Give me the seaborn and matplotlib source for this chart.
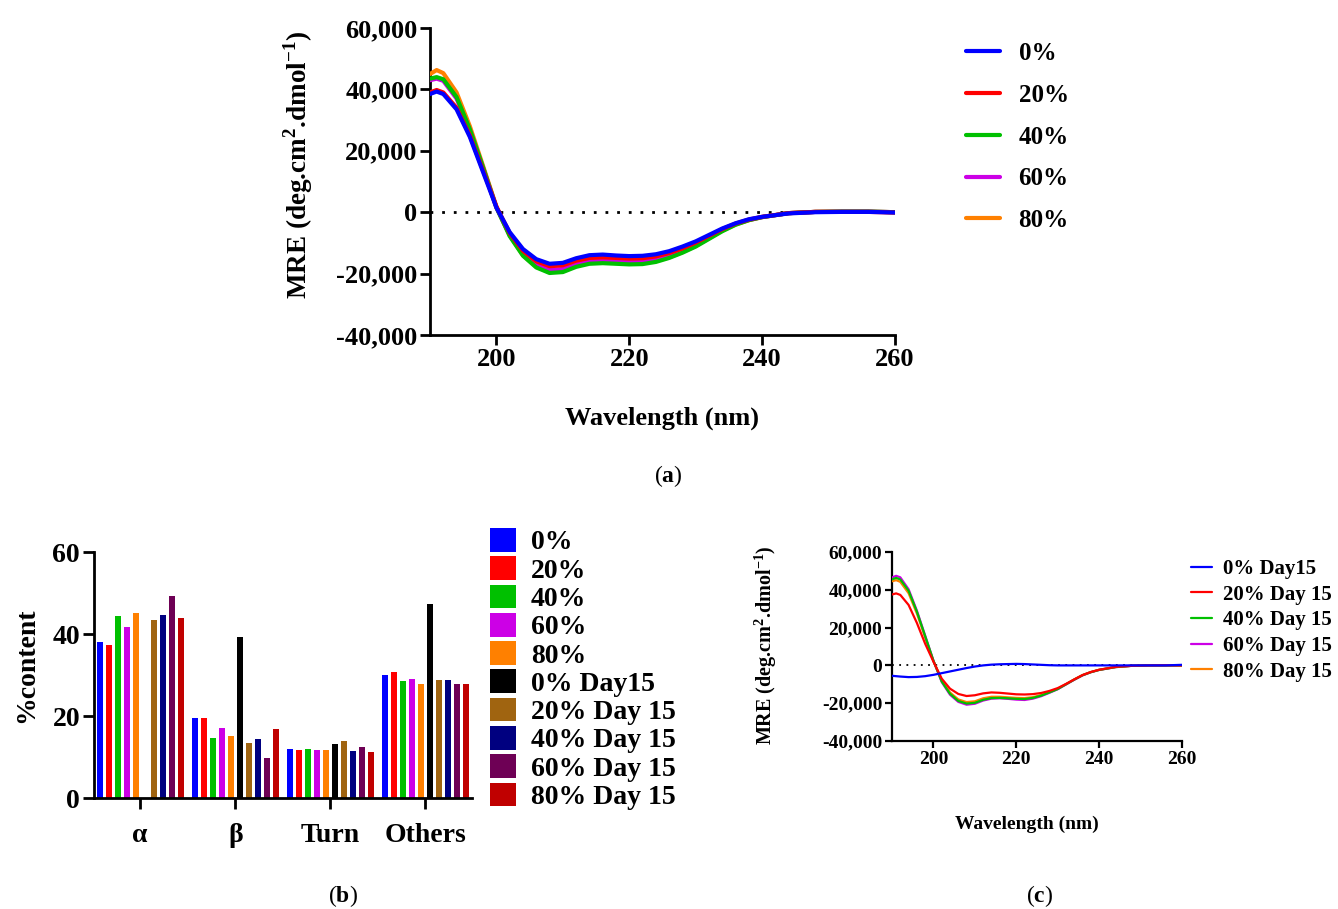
import matplotlib
matplotlib.use("Agg")
import matplotlib.pyplot as plt
from matplotlib.patches import Patch
from matplotlib.ticker import StrMethodFormatter
import numpy as np
import pandas as pd
import seaborn as sns

# ---------------- data ----------------
wavelength = [190, 191, 192, 194, 196, 198, 200, 202, 204, 206, 208, 210, 212, 214, 216,
              218, 220, 222, 224, 226, 228, 230, 232, 234, 236, 238, 240, 244, 248, 252,
              256, 260]

# (a) fresh samples, MRE in units of 1000 deg.cm2.dmol-1
mre_0 = [38.5, 39.3, 38.5, 33.5, 24.5, 13.0, 1.5, -6.5, -12.0, -15.3, -16.8, -16.5, -15.0,
         -14.0, -13.8, -14.1, -14.3, -14.2, -13.7, -12.7, -11.2, -9.5, -7.4, -5.3, -3.6,
         -2.3, -1.5, -0.4, 0.0, 0.1, 0.1, -0.1]
mre_20 = [39.0, 39.8, 39.0, 34.0, 25.0, 13.5, 1.8, -6.8, -12.6, -16.0, -17.6, -17.3, -15.8,
          -14.9, -14.7, -14.9, -15.1, -15.0, -14.4, -13.3, -11.8, -9.9, -7.7, -5.5, -3.7,
          -2.4, -1.5, -0.3, 0.1, 0.1, 0.1, -0.1]
mre_40 = [43.5, 44.0, 43.3, 37.5, 27.0, 14.5, 1.5, -7.8, -14.2, -18.0, -19.8, -19.5, -17.8,
          -16.8, -16.6, -16.8, -17.0, -16.9, -16.2, -14.9, -13.2, -11.2, -8.7, -6.2, -4.1,
          -2.6, -1.6, -0.3, 0.1, 0.2, 0.2, 0.0]
mre_60 = [43.0, 43.5, 42.8, 37.0, 26.8, 14.3, 1.5, -7.5, -13.7, -17.2, -18.8, -18.5, -16.9,
          -15.9, -15.8, -16.0, -16.2, -16.1, -15.5, -14.3, -12.7, -10.7, -8.3, -5.9, -3.9,
          -2.5, -1.6, -0.3, 0.1, 0.2, 0.2, 0.0]
mre_80 = [45.0, 46.3, 45.3, 39.0, 28.0, 15.0, 1.8, -7.6, -14.0, -17.8, -19.5, -19.2, -17.5,
          -16.5, -16.3, -16.5, -16.7, -16.6, -15.9, -14.7, -13.0, -11.0, -8.5, -6.0, -4.0,
          -2.6, -1.6, -0.3, 0.1, 0.2, 0.2, 0.0]

# (c) samples after 15 days
mre_0_d15 = [-5.5, -5.7, -5.9, -6.2, -6.1, -5.7, -5.0, -4.1, -3.2, -2.3, -1.4, -0.6, 0.0,
             0.4, 0.6, 0.7, 0.8, 0.7, 0.5, 0.3, 0.1, 0.0, 0.0, 0.0, 0.0, 0.0, 0.0, 0.0,
             0.0, 0.0, 0.0, 0.3]
mre_20_d15 = [37.5, 38.1, 37.3, 32.0, 22.5, 11.5, 2.0, -7.0, -12.3, -15.1, -16.2, -15.8,
              -14.8, -14.3, -14.5, -14.9, -15.3, -15.4, -15.2, -14.6, -13.5, -12.0, -9.8,
              -7.4, -5.1, -3.5, -2.3, -0.8, -0.2, 0.0, 0.1, 0.0]
mre_40_d15 = [45.5, 46.3, 45.5, 39.5, 28.5, 15.5, 2.5, -8.5, -15.0, -18.8, -20.2, -19.8,
              -18.2, -17.3, -17.2, -17.4, -17.7, -17.8, -17.2, -16.0, -14.3, -12.5, -10.0,
              -7.5, -5.2, -3.6, -2.4, -0.9, -0.2, 0.0, 0.0, 0.0]
mre_60_d15 = [46.5, 47.4, 46.6, 40.3, 29.0, 15.8, 2.5, -8.8, -15.5, -19.3, -20.8, -20.3,
              -18.6, -17.6, -17.4, -17.7, -18.1, -18.3, -17.6, -16.3, -14.5, -12.6, -10.1,
              -7.6, -5.3, -3.6, -2.4, -0.9, -0.2, 0.0, 0.0, 0.0]
mre_80_d15 = [44.5, 45.1, 44.2, 38.2, 27.5, 14.8, 2.3, -8.0, -14.3, -18.0, -19.4, -19.0,
              -17.4, -16.6, -16.6, -16.9, -17.2, -17.3, -16.8, -15.7, -14.1, -12.4, -9.9,
              -7.4, -5.1, -3.5, -2.3, -0.8, -0.2, 0.0, 0.0, 0.0]

fresh_labels = ["0%", "20%", "40%", "60%", "80%"]
day15_labels = ["0% Day15", "20% Day 15", "40% Day 15", "60% Day 15", "80% Day 15"]
line_colors = ["#0000FF", "#FF0000", "#00C000", "#CC00E6", "#FF8000"]

# (b) secondary structure content (%)
structures = ["α", "β", "Turn", "Others"]
pct_0 = [38.0, 19.5, 12.0, 30.0]
pct_20 = [37.2, 19.6, 11.8, 30.7]
pct_40 = [44.3, 14.7, 12.0, 28.5]
pct_60 = [41.6, 17.1, 11.6, 29.1]
pct_80 = [45.1, 15.2, 11.6, 27.7]
pct_0_d15 = [0.0, 39.2, 13.2, 47.3]
pct_20_d15 = [43.4, 13.5, 13.8, 28.9]
pct_40_d15 = [44.7, 14.4, 11.5, 28.7]
pct_60_d15 = [49.2, 9.8, 12.4, 27.9]
pct_80_d15 = [43.8, 16.8, 11.3, 27.7]
bar_labels = fresh_labels + day15_labels
bar_colors = ["#0000FF", "#FF0000", "#00C000", "#CC00E6", "#FF8000",
              "#000000", "#A06410", "#000080", "#6E0055", "#C00000"]

# ---------------- style ----------------
sns.set_style("ticks")
plt.rcParams["font.family"] = ["Liberation Serif", "DejaVu Serif"]
plt.rcParams["font.weight"] = "bold"
plt.rcParams["axes.labelweight"] = "bold"
plt.rcParams["axes.unicode_minus"] = False
plt.rcParams["mathtext.fontset"] = "custom"
plt.rcParams["mathtext.rm"] = "Liberation Serif"
plt.rcParams["mathtext.bf"] = "Liberation Serif:bold"
plt.rcParams["text.color"] = "black"
plt.rcParams["axes.labelcolor"] = "black"
plt.rcParams["xtick.color"] = "black"
plt.rcParams["ytick.color"] = "black"

W, H = 1338, 909
fig = plt.figure(figsize=(W / 100, H / 100), dpi=100)


def px_axes(left, top, right, bottom):
    return fig.add_axes([left / W, 1 - bottom / H, (right - left) / W, (bottom - top) / H])


def style_axes(ax, lw, ticklen, labelsize):
    sns.despine(ax=ax)
    for side in ("left", "bottom"):
        ax.spines[side].set_linewidth(lw)
        ax.spines[side].set_color("black")
    ax.tick_params(width=lw, length=ticklen, labelsize=labelsize, direction="out", pad=2)
    for lab in ax.get_xticklabels() + ax.get_yticklabels():
        lab.set_fontweight("bold")


ylabel_mre = r"MRE (deg.cm$^{\mathbf{2}}$.dmol$^{\mathbf{-1}}$)"

# ---------------- (a) ----------------
ax_a = px_axes(430, 28, 895, 335)
fresh_series = [mre_0, mre_20, mre_40, mre_60, mre_80]
df_a = pd.DataFrame({lab: np.array(v) * 1000 for lab, v in zip(fresh_labels, fresh_series)})
df_a["wavelength"] = wavelength
ax_a.axhline(0, color="black", lw=2.0, ls=(0, (1, 3.2)), zorder=1)
for lab, col in reversed(list(zip(fresh_labels, line_colors))):
    sns.lineplot(data=df_a, x="wavelength", y=lab, color=col, lw=3.0, ax=ax_a,
                 label=lab, sort=False, estimator=None, zorder=3)
ax_a.set_xlim(190, 260)
ax_a.set_ylim(-40000, 60000)
ax_a.set_xticks([200, 220, 240, 260])
ax_a.set_yticks(range(-40000, 60001, 20000))
ax_a.yaxis.set_major_formatter(StrMethodFormatter("{x:,.0f}"))
style_axes(ax_a, 2.0, 7, 19)
ax_a.set_xlabel("Wavelength (nm)", fontsize=19, fontweight="bold")
ax_a.xaxis.set_label_coords((662 - 430) / 465, -(418 - 335) / 307)
ax_a.xaxis.label.set_va("center")
ax_a.set_ylabel(ylabel_mre, fontsize=19.5, fontweight="bold")
ax_a.yaxis.set_label_coords(-(430 - 298) / 465, (335 - 165) / 307)
ax_a.yaxis.label.set_va("center")
h, l = ax_a.get_legend_handles_labels()
order = [l.index(x) for x in fresh_labels]
ax_a.legend([h[i] for i in order], fresh_labels, loc="upper left",
            bbox_to_anchor=(966 / W, 1 - 42 / H), bbox_transform=fig.transFigure,
            frameon=False, fontsize=18, handlelength=1.35, handletextpad=0.75,
            labelspacing=0.75, borderpad=0, borderaxespad=0)
fig.text(668 / W, 1 - 476 / H, r"($\mathbf{a}$)", fontsize=17, fontweight="normal",
         ha="center", va="center")

# ---------------- (b) ----------------
ax_b = px_axes(94, 552, 472, 798)
bar_series = [pct_0, pct_20, pct_40, pct_60, pct_80,
              pct_0_d15, pct_20_d15, pct_40_d15, pct_60_d15, pct_80_d15]
df_b = pd.DataFrame([(s, lab, v) for lab, vals in zip(bar_labels, bar_series)
                     for s, v in zip(structures, vals)],
                    columns=["structure", "sample", "content"])
sns.barplot(data=df_b, x="structure", y="content", hue="sample", order=structures,
            hue_order=bar_labels, palette=bar_colors, saturation=1, width=0.947, gap=0.32,
            linewidth=0, errorbar=None, ax=ax_b, legend=False)
ax_b.set_xlim(-0.485, 3.49)
ax_b.set_ylim(0, 60)
ax_b.set_yticks([0, 20, 40, 60])
style_axes(ax_b, 2.0, 8, 20)
ax_b.tick_params(axis="x", pad=10)
ax_b.set_xlabel("")
ax_b.set_ylabel("%content", fontsize=20, fontweight="bold")
ax_b.yaxis.set_label_coords(-(94 - 27) / 378, (798 - 665) / 246)
ax_b.yaxis.label.set_va("center")
handles_b = [Patch(facecolor=c, edgecolor="none") for c in bar_colors]
ax_b.legend(handles_b, bar_labels, loc="upper left",
            bbox_to_anchor=(490 / W, 1 - 528 / H), bbox_transform=fig.transFigure,
            frameon=False, fontsize=20, handlelength=0.94, handleheight=0.94,
            handletextpad=0.54, labelspacing=0.03, borderpad=0, borderaxespad=0)
fig.text(343 / W, 1 - 896 / H, r"($\mathbf{b}$)", fontsize=17, fontweight="normal",
         ha="center", va="center")

# ---------------- (c) ----------------
ax_c = px_axes(892, 552, 1182, 741)
day15_series = [mre_0_d15, mre_20_d15, mre_40_d15, mre_60_d15, mre_80_d15]
df_c = pd.DataFrame({lab: np.array(v) * 1000 for lab, v in zip(day15_labels, day15_series)})
df_c["wavelength"] = wavelength
ax_c.axhline(0, color="black", lw=1.3, ls=(0, (1, 3)), zorder=1)
for lab, col in reversed(list(zip(day15_labels, line_colors))):
    sns.lineplot(data=df_c, x="wavelength", y=lab, color=col, lw=1.6, ax=ax_c,
                 label=lab, sort=False, estimator=None, zorder=3)
ax_c.set_xlim(190, 260)
ax_c.set_ylim(-40000, 60000)
ax_c.set_xticks([200, 220, 240, 260])
ax_c.set_yticks(range(-40000, 60001, 20000))
ax_c.yaxis.set_major_formatter(StrMethodFormatter("{x:,.0f}"))
style_axes(ax_c, 1.6, 5, 14)
ax_c.set_xlabel("Wavelength (nm)", fontsize=14, fontweight="bold")
ax_c.xaxis.set_label_coords((1027 - 892) / 290, -(824 - 741) / 189)
ax_c.xaxis.label.set_va("center")
ax_c.set_ylabel(ylabel_mre, fontsize=14.5, fontweight="bold")
ax_c.yaxis.set_label_coords(-(892 - 766) / 290, (741 - 645) / 189)
ax_c.yaxis.label.set_va("center")
h, l = ax_c.get_legend_handles_labels()
order = [l.index(x) for x in day15_labels]
ax_c.legend([h[i] for i in order], day15_labels, loc="upper left",
            bbox_to_anchor=(1191 / W, 1 - 559 / H), bbox_transform=fig.transFigure,
            frameon=False, fontsize=15, handlelength=1.0, handletextpad=0.53,
            labelspacing=0.27, borderpad=0, borderaxespad=0)
fig.text(1040 / W, 1 - 896 / H, r"($\mathbf{c}$)", fontsize=17, fontweight="normal",
         ha="center", va="center")

fig.savefig("out.png", dpi=100)
